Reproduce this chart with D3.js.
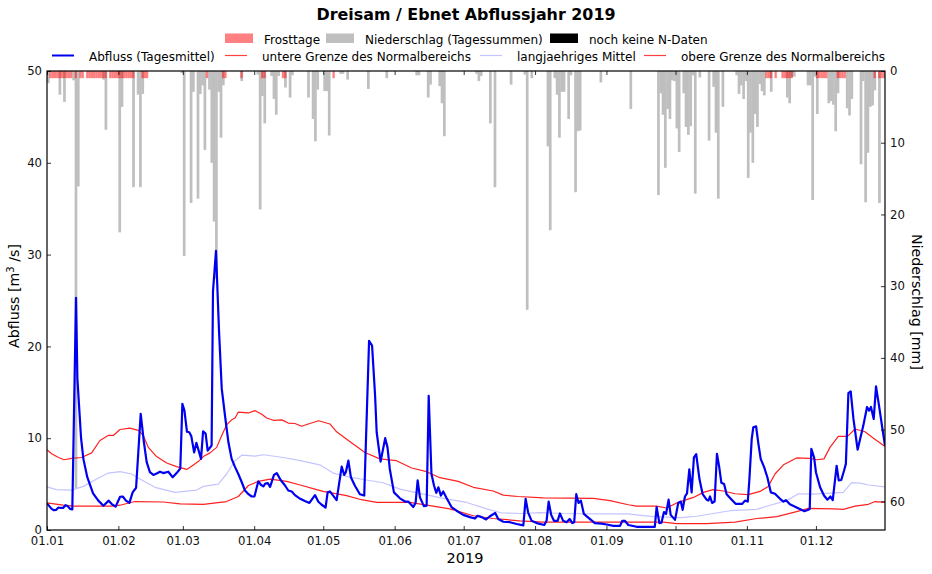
<!doctype html>
<html>
<head>
<meta charset="utf-8">
<title>Dreisam / Ebnet Abflussjahr 2019</title>
<script src="https://d3js.org/d3.v7.min.js"></script>
<style>
html, body { margin: 0; padding: 0; background: #fff; }
svg { display: block; }
text { font-family: "DejaVu Sans", sans-serif; fill: #000; }
.axis path { stroke: #000; stroke-width: 1.2; }
.axis line { stroke: #000; stroke-width: .8; }
.axis text { font-family: "DejaVu Sans", sans-serif; font-size: 11.7px; fill: #111; }
</style>
</head>
<body>
<svg id="chart" width="932" height="574"></svg>
<script>

var title = 'Dreisam / Ebnet Abflussjahr 2019'
  , xTitle = '2019'
  , monthDays = [0, 31, 59, 90, 120, 151, 181, 212, 243, 273, 304, 334]
  , monthLabels = ['01.01', '01.02', '01.03', '01.04', '01.05', '01.06', '01.07', '01.08', '01.09', '01.10', '01.11', '01.12']
  , flowTicks = [0, 10, 20, 30, 40, 50]
  , rainTicks = [0, 10, 20, 30, 40, 50, 60]
  , patchLabels = ['Frosttage', 'Niederschlag (Tagessummen)', 'noch keine N-Daten']
  , lineLabels = ['Abfluss (Tagesmittel)', 'untere Grenze des Normalbereichs', 'langjaehriges Mittel', 'obere Grenze des Normalbereichs'];

// [day of year, m3/s], vertices
var flow = [[0,2.9],[1,2.6],[2,2.3],[3,2.15],[4,2.2],[5,2.45],[6,2.4],[7,2.4],[8,2.7],[9,2.6],[10,2.3],[11,2.25],
  [12.6,25.3],[13.2,16.5],[14.8,10],[15.8,7.75],[17.5,5.75],[20,4],[22.3,3.2],[24.5,2.65],[26.8,3.2],[28,2.85],[29.8,2.55],
  [31.7,3.6],[32.9,3.65],[34.3,3.2],[35.8,2.95],[37.2,4.1],[38.7,4.6],[40.7,12.65],[42.1,9.55],[43.3,7.4],[44.7,6.3],[46.2,6],
  [47.6,6.15],[49.1,6.35],[50.5,6.2],[52.7,6.35],[54.6,5.75],[56.3,6.2],[57.9,6.7],[58.8,13.75],[59.7,13],[60.8,10.7],[61.8,10.65],
  [62.7,10.2],[63.9,8.45],[64.9,9.5],[66.9,7.75],[67.8,10.75],[68.9,10.5],[69.8,8.65],[71.5,9.2],[72.1,26],[73.4,30.4],[74.7,21.8],
  [75.9,15.4],[77.3,12.5],[78.8,9.55],[80.2,7.75],[81.7,6.85],[83.1,6.1],[84.6,5.2],[86,4.3],[87.5,3.9],[88.9,3.65],[90.1,3.65],
  [91.8,5.3],[93,4.9],[94,4.75],[94.8,5.05],[95.9,5.1],[96.9,4.7],[98.6,6],[99.8,6.2],[101.5,5.45],[103.4,4.85],[104.8,4.3],
  [106.3,4.2],[107.7,3.8],[110,3.4],[112,3.15],[114,2.95],[116.4,3.8],[117.8,3.1],[119.3,2.75],[121,2.45],[121.9,4.1],[122.9,4.2],
  [124.3,3.75],[125.8,3.25],[128,6.9],[129.1,6],[129.8,6.3],[130.9,7.55],[132,5.75],[133.7,4.85],[135.9,3.9],[137.8,3.75],
  [139.9,20.6],[141.2,20.1],[142.5,14.7],[143.2,10.65],[144.9,7.45],[146.9,10],[147.9,9],[148.9,6.65],[150.7,4.1],[153.3,3.45],
  [155.5,3.1],[156.9,3.1],[159.1,2.5],[160.1,2.95],[161,5.4],[162,3.55],[163.7,2.6],[164.9,2.65],[165.8,14.6],[167,6.1],[168.1,4.85],
  [169.1,4.05],[170,4.65],[171.1,3.75],[172.1,4.2],[173.6,3.45],[175.7,2.5],[177.9,2.1],[180.8,1.65],[183.7,1.4],[185.9,1.25],
  [187,1.55],[188.8,1.4],[190.7,1.15],[192.4,1.5],[194.7,1.85],[196,1.2],[198.2,.9],[201.1,.85],[204,.65],[206.9,.5],[207.9,3.4],
  [209,1.9],[210.5,1],[212.7,.75],[216,.55],[217,1],[217.9,3.1],[219,1.65],[220.2,1],[221.8,1],[222.8,1.8],[224.2,1],[225.7,.85],
  [227,1.2],[228.2,.75],[229,.85],[229.9,3.9],[230.9,2.95],[231.9,3.2],[233.2,1.75],[235.1,1.35],[238,.75],[240.9,.7],[243.1,.6],
  [246,.45],[248.9,.45],[249.9,1],[251,1],[252.5,.55],[256.1,.35],[260.5,.33],[264,.33],[264.8,2.5],[266,.75],[266.9,.8],[268,1.95],
  [268.9,1.75],[270,3.3],[270.9,1.65],[272.8,1.1],[274.2,2.95],[275.3,3.1],[276.1,2.2],[277.1,3.65],[278,4],[279,6.6],[280,4.1],
  [281,7.9],[282,8.25],[283.4,5.55],[284.8,3.9],[286.5,3.3],[287.3,3.2],[288,3.65],[288.9,2.95],[290,3.1],[291,8.3],[292,6.85],
  [292.9,5.15],[294.1,5],[295.2,3.9],[297.4,3.3],[299.1,2.85],[302,2.85],[303.2,3.2],[304.4,3.1],[305.1,5.55],[306.1,9.9],[306.8,11.2],
  [308,11.3],[309,9.4],[310,7.75],[311.5,6.85],[312.9,5.75],[314.4,4.1],[316.2,3.95],[318.4,3.4],[319.9,3.1],[321,3.25],[322.7,2.8],
  [325.6,2.45],[329,2.05],[330.7,2.2],[331.3,2.3],[332,8.85],[333.2,7.9],[334,6.3],[335.8,4.65],[337.5,3.75],[339,3.3],[340.3,3.65],
  [341.3,3.25],[343,7],[343.9,5.4],[345,5.45],[346.2,6.45],[347,7.2],[348.1,14.9],[349.1,15.1],[350.3,12.1],[352.1,8.75],[353.2,9.9],
  [354.6,11.4],[356.2,13.4],[357.1,13],[357.9,13.4],[359.1,12.1],[360.1,15.65],[361.4,13.55],[362.9,11],[364,9.2]];

var upperBound = [[0,8.75],[2,8.3],[5,7.9],[7.4,7.65],[10.7,7.8],[15,7.9],[19.4,8.4],[23,9.75],[26.6,10.3],[28.8,10.3],[31.7,10.95],[36,11.1],
  [39.7,10.85],[41.8,10.3],[44,9],[47.6,8],[52,7.3],[56.3,6.9],[60.7,6.6],[62.8,6.95],[65.7,7.45],[67.9,8],[70.8,8.4],[73.7,9],[75.9,10.3],
  [78,11.45],[80.2,12],[81.7,12.2],[83.1,12.85],[87.5,12.75],[90.4,13],[93.3,12.6],[95.4,12.2],[98.3,11.95],[102,12],[104.8,11.65],
  [107.7,11.6],[110.6,11.3],[113.5,11.55],[117.9,11.9],[122.9,11.55],[125.8,10.7],[130.9,9.75],[138.1,8.45],[144.6,7.75],[151.8,7.55],
  [158.4,6.75],[164.9,6.35],[170.7,5.7],[178.6,5.3],[185.2,4.65],[193.8,4.25],[198.2,3.8],[204.7,3.65],[215.6,3.5],[237.3,3.45],[244.5,3.2],
  [252.5,2.75],[256.1,2.6],[264.8,2.6],[269.2,2.4],[273.5,2.95],[280.8,3.55],[285.1,4.1],[289.4,4.4],[293.8,4.25],[298.9,3.95],[304.6,3.85],
  [309.7,4.2],[313.3,4.75],[316.2,6.1],[319.9,7.1],[325.6,7.85],[331.4,7.8],[334.3,7.65],[337.5,7.75],[340.1,9],[343.7,10.2],[347.7,10.2],
  [351,11],[355.3,10.7],[359,10],[364,9.1]];

var lowerBound = [[0,2.95],[7,2.7],[11.4,2.6],[28.8,2.6],[31.7,2.7],[38.2,3.1],[50.5,3.05],[57.8,2.85],[67.9,2.8],[78,3.1],[83.1,3.65],[87.5,4.85],
  [91.8,5.3],[96.9,5.55],[104.1,5.3],[110,4.9],[117.9,4.35],[120,4.2],[130.1,3.75],[136.6,3.3],[143.2,3],[157.6,3],[166.3,2.65],[175,2.3],
  [185.2,1.55],[193.8,1.25],[205.4,1],[215.6,.85],[238.7,.85],[252.5,.85],[267.7,.85],[273.5,.7],[286.5,.7],[298.9,.85],[308.3,1.25],
  [317,1.45],[325.6,2],[330.7,2.35],[341.6,2.3],[345.9,2.25],[351,2.6],[356.8,2.8],[359.7,3.1],[364,3]];

var longTermMean = [[0,4.7],[4,4.4],[10.7,4.35],[15.8,4.75],[21.6,5.55],[26.6,6.2],[31.7,6.35],[36.8,6.1],[40.4,5.55],[46.9,4.65],[55.6,4.1],[65,4.35],
  [67.9,4.75],[74.4,5],[78,6.1],[81.7,7.55],[84.6,8.15],[90.4,8.05],[94,8.2],[102.7,7.9],[110,7.55],[118.5,7.1],[124.3,6.2],[131.6,5.75],
  [138.8,5.45],[146,5.15],[153.3,4.45],[163.4,3.9],[172.1,3.45],[182.3,3],[191,2.3],[197.5,1.85],[206.9,1.8],[214.1,1.9],[224.2,1.8],
  [240.2,1.75],[252.5,1.75],[256.1,1.65],[263.4,1.45],[275,1.35],[282.2,1.5],[289.4,1.8],[296.7,2.1],[308.3,2.25],[314.1,2.7],[321.3,3.2],
  [326.4,3.95],[332.9,3.9],[345.9,4.1],[349.5,5.15],[353.2,5.1],[356.8,4.9],[364,4.7]];

// [day of year, mm]
var rain = [[0,1.7],[5,3.3],[7,4.3],[11,1.3],[12,58.2],[13,16.1],[24,1.2],[25,8.2],[31,22.5],[32,5],[37,16.2],[39,3.3],[40,16.2],[41,3.2],
  [58,.3],[59,25.8],[62,18.4],[63,2.9],[65,17.8],[66,3.2],[67,2],[68,11],[70,2.6],[71,12.8],[72,21],[73,29],[74,2.9],[75,9.3],[76,2],[84,1.4],
  [91,.5],[92,19.3],[93,3.5],[94,7.3],[97,.7],[98,3.9],[99,6.1],[100,.7],[103,2.3],[105,3.7],[106,.6],[113,3.7],[115,6.7],[116,9.8],[117,2.6],
  [120,2.8],[121,2.8],[122,9],[127,.4],[128,.4],[130,1.2],[139,2.5],[147,1],[160,.6],[161,.6],[165,3.7],[166,1.9],[170,2.1],[171,4.5],[172,9.1],
  [186,.4],[187,1.4],[188,.7],[192,7.3],[194,16.2],[201,1.9],[207,.5],[208,33.3],[210,1],[217,10.5],[218,22.2],[220,1],[221,3.3],[222,9.3],
  [223,2.9],[224,2.9],[226,6.7],[227,.6],[229,16.9],[230,8.4],[231,8.3],[240,1.6],[253,5.3],[265,17.3],[266,3.1],[267,6.1],[268,13.5],[269,5.3],
  [270,6.7],[271,1.3],[272,1.4],[273,8],[274,11.3],[276,3.1],[277,7.8],[278,8.9],[279,7.7],[280,.6],[281,17.1],[283,.9],[287,9.7],[289,2.2],
  [290,8.6],[291,17.8],[293,5],[299,.6],[300,3.2],[301,2],[302,3.9],[303,1.4],[304,14.9],[305,8.6],[306,12.8],[307,6],[308,7.8],[309,1.8],
  [310,2.8],[311,3.4],[314,2.9],[321,3.7],[322,4.5],[323,.8],[324,.8],[330,2],[331,2],[332,18],[333,.8],[334,6],[339,4.5],[340,4.2],[341,4.7],
  [342,8.4],[343,3.1],[347,5.2],[348,6.2],[349,3.9],[353,13],[354,1.4],[355,18.3],[356,11.4],[357,5],[358,4.8],[359,2.7],[361,18.4]];

var frostDays = [1,2,3,4,5,6,7,8,9,10,12,14,15,17,18,19,20,21,22,23,24,25,27,28,29,30,31,32,33,34,35,36,37,41,42,43,69,76,77,84,93,94,102,103,124,
  312,313,314,316,319,320,321,322,323,334,335,336,337,338,343,344,345,346,359,361,362,363];

var margin = { top: 71, right: 47, bottom: 44, left: 47 }
  , width = 932 - margin.left - margin.right
  , height = 574 - margin.top - margin.bottom;

var x = d3.scaleLinear().domain([0, 364]).range([0, width])
  , yFlow = d3.scaleLinear().domain([0, 50]).range([height, 0])
  , yRain = d3.scaleLinear().domain([0, 64]).range([0, height]);

var svg = d3.select('#chart');
var g = svg.append('g').attr('transform', 'translate(' + margin.left + ',' + margin.top + ')');

svg.append('defs').append('clipPath').attr('id', 'plot')
  .append('rect').attr('width', width).attr('height', height);

var plot = g.append('g').attr('clip-path', 'url(#plot)');

// a little wider than one day so neighbouring bars leave no seam
plot.selectAll('rect.rain').data(rain).enter().append('rect')
  .attr('class', 'rain')
  .attr('x', function(d) { return x(d[0]) })
  .attr('y', 0)
  .attr('width', x(1) - x(0) + 0.4)
  .attr('height', function(d) { return yRain(d[1]) })
  .attr('fill', '#bfbfbf');

plot.selectAll('rect.frost').data(frostDays).enter().append('rect')
  .attr('class', 'frost')
  .attr('x', function(d) { return x(d) })
  .attr('y', 0)
  .attr('width', x(1) - x(0))
  .attr('height', yRain(1))
  .attr('fill', '#ff0000')
  .attr('fill-opacity', 0.5);

var line = d3.line()
  .x(function(d) { return x(d[0]) })
  .y(function(d) { return yFlow(d[1]) });

function drawLine(data, color, w) {
	plot.append('path')
	  .attr('d', line(data))
	  .attr('fill', 'none')
	  .attr('stroke', color)
	  .attr('stroke-width', w)
	  .attr('stroke-linejoin', 'round');
}

drawLine(longTermMean, '#c4c4ff', 1.2);
drawLine(lowerBound, '#ff2020', 1.2);
drawLine(upperBound, '#ff2020', 1.2);
drawLine(flow, '#0000f0', 2.2);

// ticks point inward on all four sides
var tickLabel = function(d) { return monthLabels[monthDays.indexOf(d)] };

g.append('g').attr('class', 'axis')
  .attr('transform', 'translate(0,' + height + ')')
  .call(d3.axisBottom(x).tickValues(monthDays).tickFormat(tickLabel).tickSize(-4).tickPadding(7));

g.append('g').attr('class', 'axis')
  .call(d3.axisTop(x).tickValues(monthDays).tickFormat('').tickSize(-4));

g.append('g').attr('class', 'axis')
  .call(d3.axisLeft(yFlow).tickValues(flowTicks).tickSize(-4).tickPadding(5));

g.append('g').attr('class', 'axis')
  .attr('transform', 'translate(' + width + ',0)')
  .call(d3.axisRight(yRain).tickValues(rainTicks).tickSize(-4).tickPadding(5));

g.selectAll('.axis .domain').attr('d', null);
g.append('rect')
  .attr('width', width).attr('height', height)
  .attr('fill', 'none').attr('stroke', '#000').attr('stroke-width', 1.2);

svg.append('text')
  .attr('x', 466).attr('y', 19.5)
  .attr('text-anchor', 'middle')
  .style('font-size', '15.9px').style('font-weight', 'bold')
  .text(title);

svg.append('text')
  .attr('x', 465).attr('y', 563)
  .attr('text-anchor', 'middle')
  .style('font-size', '14.5px')
  .text(xTitle);

var yLabel = svg.append('text')
  .attr('transform', 'translate(19,296) rotate(-90)')
  .attr('text-anchor', 'middle')
  .style('font-size', '14.2px');
yLabel.append('tspan').text('Abfluss [m');
yLabel.append('tspan').attr('dy', -5).style('font-size', '10px').text('3');
yLabel.append('tspan').attr('dy', 5).text(' /s]');

svg.append('text')
  .attr('transform', 'translate(912,302) rotate(90)')
  .attr('text-anchor', 'middle')
  .style('font-size', '14.2px')
  .text('Niederschlag [mm]');

// legend, two rows
var patchColors = ['#ff8080', '#bfbfbf', '#000000']
  , patchX = [225, 326, 550]
  , lineColors = ['#0000f0', '#ff4040', '#c4c4ff', '#ff4040']
  , lineX = [52, 225, 480, 644];

patchLabels.forEach(function(label, i) {
	svg.append('rect')
	  .attr('x', patchX[i]).attr('y', 33.5)
	  .attr('width', 28).attr('height', 9.5)
	  .attr('fill', patchColors[i]);
	svg.append('text')
	  .attr('x', patchX[i] + 39).attr('y', 43.5)
	  .style('font-size', '12px')
	  .text(label);
});

lineLabels.forEach(function(label, i) {
	svg.append('line')
	  .attr('x1', lineX[i]).attr('x2', lineX[i] + 22)
	  .attr('y1', 55.5).attr('y2', 55.5)
	  .attr('stroke', lineColors[i])
	  .attr('stroke-width', i === 0 ? 2 : 1.2);
	svg.append('text')
	  .attr('x', lineX[i] + 37).attr('y', 60.5)
	  .style('font-size', '12px')
	  .text(label);
});

</script>
</body>
</html>
